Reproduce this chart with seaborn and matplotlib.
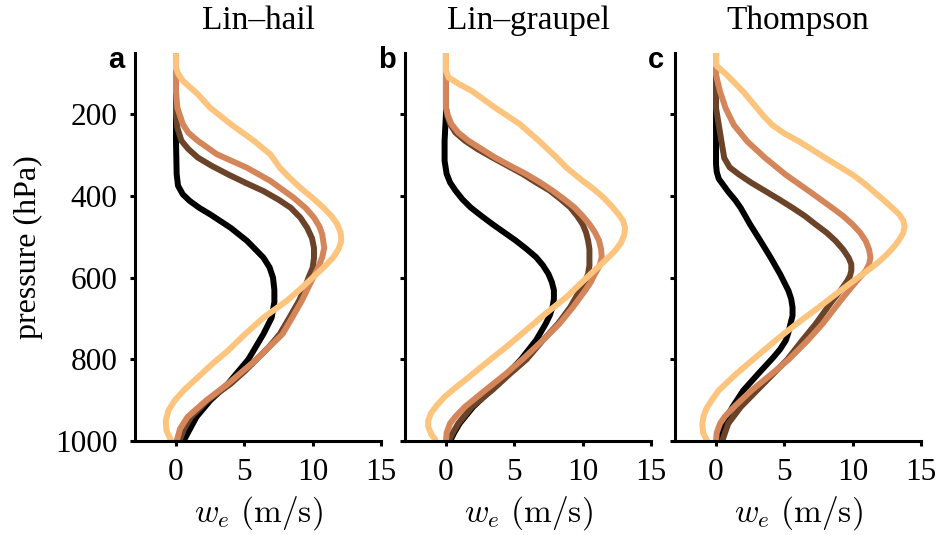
"""
Entrainment-rate profiles w_e vs pressure for three microphysics schemes
"""

import numpy as np
import pandas as pd
import matplotlib
matplotlib.use('Agg')
import matplotlib.pyplot as plt
import seaborn as sns

# Configuration
PANELS = ['a', 'b', 'c']
TITLES = ['Lin\u2013hail', 'Lin\u2013graupel', 'Thompson']
RUNS = ['black', 'dark', 'mid', 'light']
COLORS = ['#000000', '#6b4329', '#d4865a', '#fdc47d']
X_TICKS = [0, 5, 10, 15]
Y_TICKS = [200, 400, 600, 800, 1000]

# Panel a: Lin-hail
A_BLACK_P = [50, 180, 265, 347, 375, 396, 412, 429, 445, 478, 510, 551, 575, 600, 630, 660, 698, 738, 800, 860, 901, 941, 1000]
A_BLACK_W = [0, 0, 0, 0.05, 0.15, 0.5, 1.0, 1.7, 2.5, 4.0, 5.2, 6.4, 6.85, 7.1, 7.2, 7.2, 7.0, 6.4, 5.3, 3.8, 2.5, 1.5, 0.55]
A_DARK_P = [50, 200, 233, 265, 285, 306, 326, 347, 368, 388, 409, 429, 453, 478, 503, 527, 552, 576, 600, 628, 657, 698, 738, 770, 800, 830, 860, 901, 941, 970, 1000]
A_DARK_W = [0, 0, 0.1, 0.4, 0.9, 1.6, 2.6, 3.8, 5.1, 6.4, 7.5, 8.4, 9.1, 9.6, 9.95, 10.1, 10.1, 10.0, 9.7, 9.4, 9.0, 8.3, 7.6, 6.8, 5.9, 5.0, 4.0, 2.3, 1.1, 0.6, 0.25]
A_MID_P = [50, 143, 184, 224, 245, 265, 298, 331, 363, 404, 430, 453, 475, 494, 527, 550, 576, 616, 657, 698, 738, 800, 860, 901, 941, 970, 1000]
A_MID_W = [0, 0, 0.1, 0.5, 0.9, 1.6, 3.0, 5.2, 6.9, 8.6, 9.5, 10.1, 10.5, 10.7, 10.85, 10.7, 10.4, 9.8, 9.2, 8.5, 7.8, 5.9, 3.8, 2.2, 0.85, 0.3, 0.05]
A_LIGHT_P = [50, 86, 100, 118, 151, 184, 224, 265, 298, 331, 355, 380, 405, 429, 450, 469, 490, 510, 530, 551, 575, 600, 628, 657, 698, 740, 779, 810, 844, 875, 901, 925, 950, 974, 1000]
A_LIGHT_W = [0, 0, 0.15, 0.5, 1.6, 2.5, 4.0, 5.7, 6.9, 7.6, 8.3, 9.1, 10.0, 10.8, 11.4, 11.8, 12.05, 12.1, 11.9, 11.5, 10.8, 10.0, 9.1, 8.1, 6.4, 5.0, 3.8, 2.7, 1.6, 0.6, -0.1, -0.55, -0.75, -0.7, -0.35]

# Panel b: Lin-graupel
B_BLACK_P = [50, 200, 265, 314, 346, 367, 387, 408, 428, 449, 469, 489, 509, 530, 550, 570, 591, 611, 631, 652, 672, 692, 713, 753, 800, 835, 875, 916, 957, 980, 1000]
B_BLACK_W = [0, 0, -0.1, -0.1, 0.05, 0.3, 0.7, 1.2, 1.8, 2.6, 3.4, 4.25, 5.1, 5.9, 6.6, 7.1, 7.5, 7.75, 7.9, 7.9, 7.8, 7.6, 7.3, 6.6, 5.5, 4.5, 3.3, 2.0, 1.0, 0.6, 0.3]
B_DARK_P = [50, 184, 204, 224, 245, 265, 285, 306, 326, 346, 367, 387, 408, 428, 449, 469, 489, 509, 530, 550, 570, 591, 611, 631, 672, 713, 753, 800, 835, 875, 916, 957, 980, 1000]
B_DARK_W = [0, 0, 0.1, 0.3, 0.7, 1.4, 2.3, 3.4, 4.5, 5.6, 6.6, 7.6, 8.4, 9.1, 9.6, 10.0, 10.25, 10.4, 10.5, 10.5, 10.5, 10.4, 10.15, 9.8, 9.1, 8.2, 7.1, 5.9, 4.7, 3.4, 1.9, 0.9, 0.5, 0.2]
B_MID_P = [50, 143, 184, 204, 224, 245, 265, 285, 306, 326, 346, 367, 387, 408, 428, 449, 469, 489, 509, 530, 550, 570, 591, 611, 631, 672, 713, 753, 800, 835, 875, 916, 940, 957, 980, 1000]
B_MID_W = [0, 0, 0, 0.15, 0.4, 0.9, 1.65, 2.6, 3.6, 4.7, 5.85, 6.9, 7.8, 8.65, 9.4, 10.0, 10.5, 10.9, 11.2, 11.35, 11.4, 11.25, 10.9, 10.6, 10.2, 9.3, 8.3, 7.1, 5.6, 4.4, 2.9, 1.4, 0.7, 0.3, 0.05, 0.0]
B_LIGHT_P = [50, 94, 110, 125, 143, 184, 224, 265, 306, 330, 363, 383, 403, 424, 444, 460, 477, 495, 515, 535, 555, 575, 600, 648, 688, 729, 770, 810, 851, 872, 892, 912, 932, 950, 965, 985, 1000]
B_LIGHT_W = [0, 0, 0.2, 0.9, 1.9, 3.6, 5.4, 6.8, 8.1, 8.8, 10.0, 10.8, 11.5, 12.1, 12.6, 12.95, 13.1, 13.05, 12.8, 12.35, 11.75, 11.1, 10.3, 8.8, 7.3, 5.85, 4.4, 2.9, 1.4, 0.6, -0.1, -0.65, -1.1, -1.3, -1.3, -1.05, -0.7]

# Panel c: Thompson
C_BLACK_P = [50, 200, 267, 323, 341, 358, 374, 390, 410, 429, 470, 510, 551, 592, 612, 632, 652, 673, 693, 713, 734, 754, 775, 795, 815, 835, 876, 917, 957, 1000]
C_BLACK_W = [0, 0, 0, 0, 0.05, 0.2, 0.55, 0.9, 1.4, 1.8, 2.5, 3.25, 4.0, 4.7, 5.0, 5.3, 5.5, 5.6, 5.6, 5.45, 5.3, 5.1, 4.7, 4.2, 3.65, 3.1, 2.0, 1.2, 0.55, 0.2]
C_DARK_P = [50, 137, 185, 226, 267, 307, 330, 348, 368, 388, 408, 429, 449, 470, 490, 510, 531, 551, 567, 583, 596, 608, 632, 657, 713, 754, 801, 835, 876, 917, 957, 1000]
C_DARK_W = [0, 0, 0, 0.2, 0.4, 0.6, 1.0, 1.7, 2.6, 3.6, 4.6, 5.6, 6.5, 7.3, 8.1, 8.75, 9.3, 9.7, 9.9, 9.9, 9.8, 9.6, 9.1, 8.5, 7.3, 6.3, 5.2, 4.2, 3.0, 1.8, 0.9, 0.45]
C_MID_P = [50, 104, 125, 145, 185, 226, 267, 307, 348, 388, 429, 449, 470, 490, 510, 531, 551, 567, 583, 608, 632, 657, 713, 754, 801, 835, 876, 917, 940, 957, 980, 1000]
C_MID_W = [0, 0, 0.15, 0.3, 0.7, 1.3, 2.3, 3.6, 5.1, 6.8, 8.5, 9.3, 10.0, 10.55, 10.95, 11.2, 11.3, 11.2, 10.95, 10.3, 9.7, 9.1, 7.8, 6.7, 5.3, 4.1, 2.6, 1.3, 0.65, 0.3, 0.05, 0]
C_LIGHT_P = [50, 80, 92, 104, 145, 185, 205, 226, 247, 267, 307, 348, 368, 388, 408, 429, 445, 460, 475, 490, 508, 527, 543, 559, 575, 592, 632, 673, 713, 754, 795, 835, 876, 897, 917, 937, 957, 980, 1000]
C_LIGHT_W = [0, 0, 0.4, 0.8, 2.0, 3.0, 3.5, 4.1, 5.0, 6.1, 8.0, 10.0, 10.8, 11.5, 12.2, 12.9, 13.4, 13.7, 13.8, 13.7, 13.4, 12.95, 12.5, 12.0, 11.4, 10.7, 9.1, 7.5, 5.9, 4.35, 2.9, 1.5, 0.2, -0.25, -0.65, -0.9, -1.0, -0.95, -0.65]

profiles = {
    'a': [(A_BLACK_P, A_BLACK_W), (A_DARK_P, A_DARK_W), (A_MID_P, A_MID_W), (A_LIGHT_P, A_LIGHT_W)],
    'b': [(B_BLACK_P, B_BLACK_W), (B_DARK_P, B_DARK_W), (B_MID_P, B_MID_W), (B_LIGHT_P, B_LIGHT_W)],
    'c': [(C_BLACK_P, C_BLACK_W), (C_DARK_P, C_DARK_W), (C_MID_P, C_MID_W), (C_LIGHT_P, C_LIGHT_W)],
}

# Long-form table
rows = []
for panel in PANELS:
    for run, (p, w) in zip(RUNS, profiles[panel]):
        for pi, wi in zip(p, w):
            rows.append({'panel': panel, 'run': run, 'p': pi, 'w': wi})
df = pd.DataFrame(rows)

# Style
sns.set_style('ticks')
plt.rcParams['font.family'] = ['Liberation Serif', 'DejaVu Serif']
plt.rcParams['mathtext.fontset'] = 'cm'
plt.rcParams['text.color'] = 'black'
plt.rcParams['axes.labelcolor'] = 'black'
plt.rcParams['axes.edgecolor'] = 'black'
plt.rcParams['axes.linewidth'] = 2.2
for k in ['xtick', 'ytick']:
    plt.rcParams[f'{k}.major.width'] = 2.2
    plt.rcParams[f'{k}.major.size'] = 3.5
    plt.rcParams[f'{k}.major.pad'] = 9
    plt.rcParams[f'{k}.color'] = 'black'
    plt.rcParams[f'{k}.labelcolor'] = 'black'
    plt.rcParams[f'{k}.labelsize'] = 22.5

fig = plt.figure(figsize=(9.42, 5.35), dpi=100)
lefts = [0.1433, 0.4299, 0.7166]
bottom, width, height = 0.1757, 0.2611, 0.7252

for i, panel in enumerate(PANELS):
    ax = fig.add_axes([lefts[i], bottom, width, height])
    sub = df[df['panel'] == panel]
    sns.lineplot(data=sub, x='w', y='p', hue='run', hue_order=RUNS, palette=COLORS,
                 sort=False, estimator=None, orient='y', lw=4.3, legend=False, ax=ax,
                 solid_capstyle='butt', solid_joinstyle='round')
    ax.set_xlim(-3, 15)
    ax.set_ylim(1000, 50)
    ax.set_xticks(X_TICKS)
    ax.set_yticks(Y_TICKS)
    if i > 0:
        ax.tick_params(axis='y', labelleft=False)
    sns.despine(ax=ax)
    ax.set_title(TITLES[i], fontsize=24, pad=17)
    ax.set_xlabel(r'$w_e\ (\mathrm{m/s})$', fontsize=24, labelpad=5)
    ax.set_ylabel('pressure (hPa)' if i == 0 else '', fontsize=23, labelpad=9)
    ax.text(-0.11, 0.962, panel, transform=ax.transAxes, fontsize=21,
            fontweight='bold', family='Liberation Sans', ha='left', va='baseline')

plt.savefig('out.png', dpi=100)
plt.close()
